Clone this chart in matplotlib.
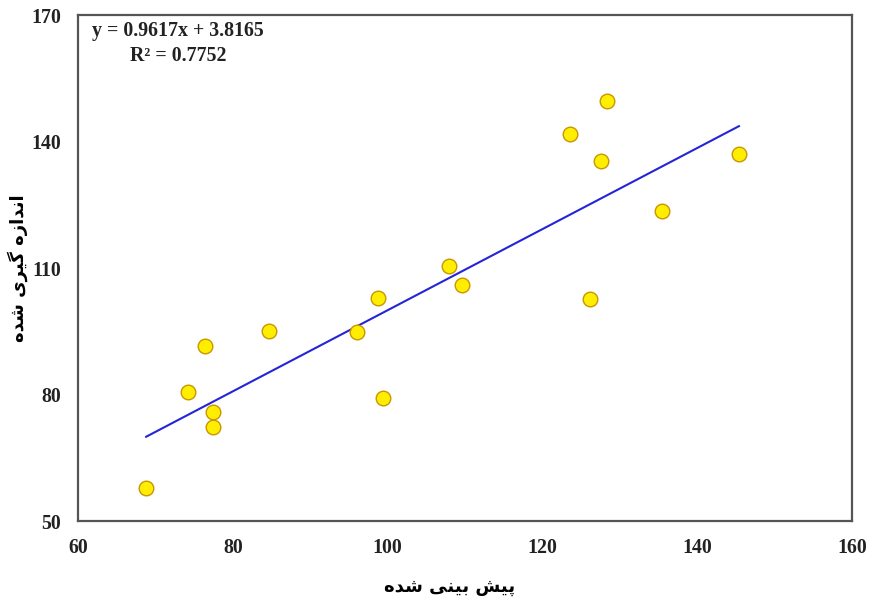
import matplotlib
matplotlib.use("Agg")
import matplotlib.pyplot as plt
import numpy as np

# ------------------------------------------------------------
# Data
# ------------------------------------------------------------

predicted = [68.8, 74.2, 76.4, 77.4, 77.4, 84.7, 96.0, 98.8, 99.4, 107.9,
             109.6, 123.6, 126.1, 127.6, 128.3, 135.5, 145.4]
measured = [57.8, 80.6, 91.5, 75.8, 72.3, 95.1, 94.8, 102.9, 79.2, 110.5,
            106.0, 141.8, 102.6, 135.4, 149.6, 123.5, 137.0]

SLOPE = 0.9617
INTERCEPT = 3.8165
R2 = 0.7752

x_ticks = [60, 80, 100, 120, 140, 160]
y_ticks = [50, 80, 110, 140, 170]

# Persian labels written in presentation forms (visual order),
# since matplotlib does no Arabic shaping.
# "پیش بینی شده"
X_LABEL = "\uFEE9\uFEAA\uFEB7 \uFBFD\uFEE8\uFBFF\uFE91 \uFEB6\uFBFF\uFB58"
# "اندازه گیری شده"
Y_LABEL = "\uFEE9\uFEAA\uFEB7 \uFBFC\uFEAE\uFBFF\uFB94 \uFEE9\uFEAF\uFE8D\uFEAA\uFEE7\uFE8D"

# ------------------------------------------------------------
# Plot
# ------------------------------------------------------------

plt.rcParams["font.family"] = ["Liberation Serif", "DejaVu Serif"]

fig = plt.figure(figsize=(8.69, 6.01), dpi=100)
ax = fig.add_axes([0.0898, 0.1331, 0.8906, 0.8419])

# trend line over the data range
xs = np.array([min(predicted), max(predicted)])
ax.plot(xs, SLOPE * xs + INTERCEPT, color="#2424D8", linewidth=1.5, zorder=2)

ax.plot(predicted, measured, linestyle="none", marker="o", markersize=10.5,
        markerfacecolor="#FFEE00", markeredgecolor="#C89600",
        markeredgewidth=1.0, zorder=3)

ax.set_xlim(60, 160)
ax.set_ylim(50, 170)
ax.set_xticks(x_ticks)
ax.set_yticks(y_ticks)
ax.tick_params(length=0, labelsize=14.3, pad=12)
for lbl in ax.get_xticklabels() + ax.get_yticklabels():
    lbl.set_fontweight("bold")
    lbl.set_color("#222222")

for sp in ax.spines.values():
    sp.set_color("#555555")
    sp.set_linewidth(1.6)

ax.text(0.129, 0.944, f"y = {SLOPE}x + {INTERCEPT}\nR\u00b2 = {R2}",
        transform=ax.transAxes, ha="center", va="center",
        fontsize=14.3, fontweight="bold", color="#222222", linespacing=1.32)

ax.set_xlabel(X_LABEL, family=["DejaVu Sans"], fontsize=13, fontweight="bold")
ax.set_ylabel(Y_LABEL, family=["DejaVu Sans"], fontsize=13, fontweight="bold")
ax.xaxis.set_label_coords(0.48, -0.1305)
ax.yaxis.set_label_coords(-0.0775, 0.5)
ax.xaxis.label.set_va("center")
ax.yaxis.label.set_va("center")

fig.savefig("out.png", dpi=100)
plt.close(fig)
